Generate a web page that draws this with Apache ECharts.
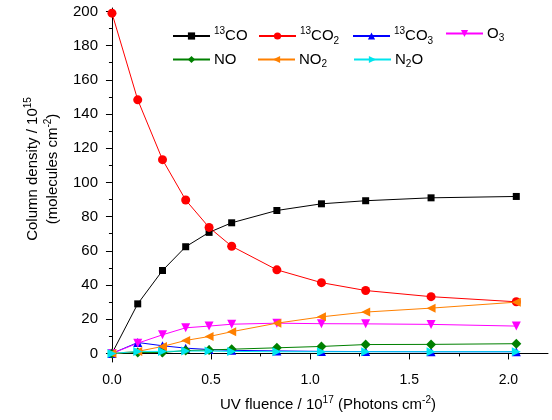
<!DOCTYPE html>
<html>
<head>
<meta charset="utf-8">
<script src="https://cdn.jsdelivr.net/npm/echarts@6/dist/echarts.min.js"></script>
<style>html,body{margin:0;padding:0;background:#fff}#c{width:552px;height:420px}</style>
</head>
<body>
<div id="c"></div>
<script>
var fluence = [0, 0.13, 0.255, 0.372, 0.49, 0.604, 0.832, 1.057, 1.28, 1.61, 2.04];
var co13   = [0, 29.0, 48.5, 62.4, 70.8, 76.4, 83.6, 87.5, 89.3, 91.0, 91.8];
var co2_13 = [199, 148.3, 113.3, 89.7, 73.7, 62.7, 48.9, 41.4, 36.8, 33.2, 30.2];
var co3_13 = [0, 6.4, 4.5, 3.1, 2.3, 1.8, 1.5, 1.2, 1.1, 1.0, 1.0];
var o3     = [0, 6.0, 10.9, 15.0, 16.0, 17.1, 17.7, 17.4, 17.3, 17.0, 16.0];
var no     = [0, 0.6, 0.6, 1.7, 2.0, 2.5, 3.3, 4.1, 5.2, 5.3, 5.7];
var no2    = [0, 1.2, 4.1, 7.6, 9.9, 12.7, 17.7, 21.4, 24.2, 26.5, 30.0];
var n2o    = [0, 1.2, 1.2, 1.4, 1.4, 1.2, 1.0, 1.0, 1.0, 1.0, 1.0];

var xMajor = [0, 0.5, 1.0, 1.5, 2.0];
var xMinor = [0.25, 0.75, 1.25, 1.75];
var yMajor = [0, 20, 40, 60, 80, 100, 120, 140, 160, 180, 200];
var yMinor = [10, 30, 50, 70, 90, 110, 130, 150, 170, 190];

var FONT = 'Liberation Sans, Arial, sans-serif';
var rich = {
  n: {fontSize: 15, lineHeight: 20, fontFamily: FONT, color: '#000'},
  sup: {fontSize: 10, lineHeight: 10, verticalAlign: 'top', fontFamily: FONT, color: '#000'},
  sub: {fontSize: 10, lineHeight: 10, verticalAlign: 'bottom', fontFamily: FONT, color: '#000'}
};
var names = ['13CO', '13CO2', '13CO3', 'O3', 'NO', 'NO2', 'N2O'];
var labelsRich = {
  '13CO': '{sup|13}{n|CO}',
  '13CO2': '{sup|13}{n|CO}{sub|2}',
  '13CO3': '{sup|13}{n|CO}{sub|3}',
  'O3': '{n|O}{sub|3}',
  'NO': '{n|NO}',
  'NO2': '{n|NO}{sub|2}',
  'N2O': '{n|N}{sub|2}{n|O}'
};
var legendPos = [[172, 26], [258, 26], [352, 26], [445, 26], [172, 52], [257, 52], [353, 52]];

function mk(name, data, color, symbol, size, rot) {
  return {
    name: name, type: 'line', data: fluence.map(function (x, i) { return [x, data[i]]; }),
    symbol: symbol, symbolSize: size, symbolRotate: rot || 0,
    lineStyle: {color: color, width: 1}, itemStyle: {color: color},
    emphasis: {disabled: true}, animation: false
  };
}

var legends = names.map(function (nm, i) {
  return {
    data: [nm], left: legendPos[i][0], top: legendPos[i][1], padding: 0,
    itemWidth: 37, itemHeight: 9, itemGap: 0,
    formatter: function (n) { return labelsRich[n]; },
    textStyle: {rich: rich, padding: [0, 0, 0, -1]}
  };
});

var chart = echarts.init(document.getElementById('c'), null, {renderer: 'canvas'});
chart.setOption({
  animation: false,
  backgroundColor: '#fff',
  grid: {left: 108, right: 4, top: 8, bottom: 58, containLabel: false},
  legend: legends,
  xAxis: [{
    type: 'value', min: -0.02, max: 2.2,
    name: '{n|UV fluence / 10}{sup|17}{n| (Photons cm}{sup|-2}{n|)}',
    nameLocation: 'middle', nameGap: 33, nameTextStyle: {rich: rich},
    axisLine: {lineStyle: {color: '#000', width: 1}},
    axisTick: {customValues: xMajor, length: 6, lineStyle: {color: '#000'}},
    axisLabel: {customValues: xMajor, color: '#000', fontSize: 14, fontFamily: FONT, margin: 11,
      formatter: function (v) { return v.toFixed(1); }},
    splitLine: {show: false}
  }, {
    type: 'value', min: -0.02, max: 2.2, position: 'bottom',
    axisLine: {show: false},
    axisTick: {customValues: xMinor, length: 3, lineStyle: {color: '#000'}},
    axisLabel: {show: false}, splitLine: {show: false}
  }],
  yAxis: [{
    type: 'value', min: -5, max: 202,
    name: '{n|Column density / 10}{sup|15}\n{n|(molecules cm}{sup|-2}{n|)}',
    nameLocation: 'middle', nameGap: 45,
    nameTextStyle: {rich: rich, align: 'center', padding: [0, 0, 0, 32]},
    axisLine: {show: true, lineStyle: {color: '#000', width: 1}},
    axisTick: {show: true, customValues: yMajor, length: 6, lineStyle: {color: '#000'}},
    axisLabel: {customValues: yMajor, color: '#000', fontSize: 15, fontFamily: FONT, margin: 10},
    splitLine: {show: false}
  }, {
    type: 'value', min: -5, max: 202, position: 'left',
    axisLine: {show: false},
    axisTick: {show: true, customValues: yMinor, length: 3, lineStyle: {color: '#000'}},
    axisLabel: {show: false}, splitLine: {show: false}
  }],
  series: [
    mk('13CO', co13, '#000000', 'rect', 7),
    mk('13CO2', co2_13, '#ff0000', 'circle', 9),
    mk('13CO3', co3_13, '#0000ff', 'triangle', 9),
    mk('O3', o3, '#ff00ff', 'triangle', 9, 180),
    mk('NO', no, '#008000', 'diamond', 10),
    mk('NO2', no2, '#ff8000', 'triangle', 9, 90),
    mk('N2O', n2o, '#00e5ee', 'triangle', 9, -90)
  ]
});
</script>
</body>
</html>
